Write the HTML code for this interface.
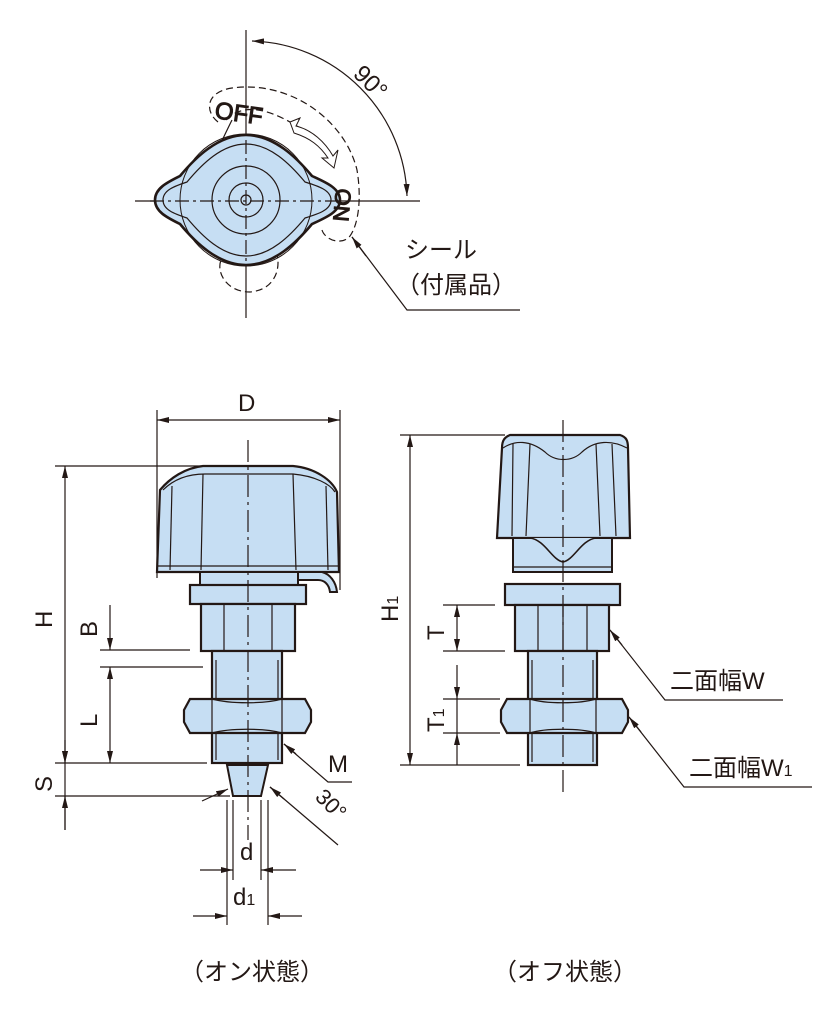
<!DOCTYPE html>
<html><head><meta charset="utf-8"><style>
html,body{margin:0;padding:0;background:#fff;}
svg{display:block;}
text{font-family:"Liberation Sans","Noto Sans CJK JP",sans-serif;fill:#231815;}
</style></head><body>
<svg width="833" height="1013" viewBox="0 0 833 1013" xmlns="http://www.w3.org/2000/svg">
<defs>
<marker id="a" viewBox="0 0 12 6" refX="12" refY="3" markerWidth="12" markerHeight="6" orient="auto-start-reverse" markerUnits="userSpaceOnUse"><path d="M0,0 L12,3 L0,6 z" fill="#231815"/></marker>
</defs>
<g stroke="#231815" fill="none" stroke-width="1.2">

<!-- ===== TOP VIEW ===== -->
<line x1="246" y1="30" x2="246" y2="318"/>
<line x1="135" y1="201" x2="420" y2="201"/>
<!-- dashed seal outline -->
<path d="M218,122 C205,112 205,92 232,88 C290,80 345,120 357,170 C362,200 358,225 350,236 C342,246 325,240 322,230" stroke-dasharray="7,4"/>
<path d="M226,120 C245,100 275,112 300,128" stroke-dasharray="7,4"/>
<path d="M276,251 C282,268 275,290 250,292 C225,292 215,270 222,258" stroke-dasharray="7,4"/>
<path d="M232,120 C222,140 218,150 212,160"/>
<!-- arc 90 -->
<path d="M252,41 A160,160 0 0 1 407,196" marker-start="url(#a)" marker-end="url(#a)"/>
<!-- rotate arrow -->
<path d="M290,122 L300,118 L296,126 C312,130 325,142 333,156 L338,150 L334,168 L322,158 L328,158 C320,146 310,138 294,133 Z" stroke-width="1" fill="#fff"/>
<!-- body -->
<path d="M155,200 C155,188 168,182 180,176 C195,158 218,135 246,135 C274,135 297,158 312,176 C325,182 340,188 340,200 C340,212 325,218 312,224 C297,242 274,265 246,265 C218,265 195,242 180,224 C168,218 155,212 155,200 Z" fill="#c6def3" stroke-width="2.6"/>
<path d="M163,200 C163,190 175,186 187,182 C202,164 222,144 246,144 C270,144 290,164 305,182 C318,186 331,190 331,200 C331,210 318,214 305,218 C290,236 270,256 246,256 C222,256 202,236 187,218 C175,214 163,210 163,200 Z"/>
<circle cx="246" cy="200" r="66" stroke-width="1"/>
<circle cx="246" cy="200" r="34"/>
<circle cx="246" cy="200" r="17"/>
<circle cx="246" cy="200" r="5"/>
<line x1="246" y1="140" x2="246" y2="262" stroke-dasharray="14,4,3,4"/>
<line x1="150" y1="201" x2="340" y2="201" stroke-dasharray="14,4,3,4"/>
<!-- seal leader -->
<polyline points="352,237 407,310 520,310" />
<line x1="352" y1="237" x2="366" y2="256" marker-start="url(#a)"/>

<!-- ===== LEFT VIEW ===== -->
<!-- D -->
<line x1="157" y1="410" x2="157" y2="578"/>
<line x1="340" y1="410" x2="340" y2="590"/>
<line x1="157" y1="420" x2="340" y2="420" marker-start="url(#a)" marker-end="url(#a)"/>
<!-- knob -->
<path d="M203,466 L293,466 C315,468 332,480 337,492 L339,572 L157,572 L160,490 C170,478 185,468 203,466 Z" fill="#c6def3" stroke-width="2.2"/>
<path d="M163,490 C175,478 190,474 205,474 L293,474 C315,476 330,484 335,492"/>
<line x1="203" y1="474" x2="201" y2="570"/><line x1="293" y1="474" x2="296" y2="570"/>
<line x1="172" y1="486" x2="170" y2="570"/><line x1="326" y1="486" x2="328" y2="570"/>
<line x1="158" y1="566" x2="338" y2="566"/>
<path d="M298,572 L322,572 C330,574 336,582 337,592 L330,592 C329,584 324,580 318,580 L298,580 Z" fill="#c6def3" stroke-width="2"/>
<rect x="200" y="572" width="98" height="13" fill="#c6def3" stroke-width="2"/>
<rect x="190" y="585" width="116" height="19" fill="#c6def3" stroke-width="2.2"/>
<rect x="201" y="604" width="94" height="47" fill="#c6def3" stroke-width="2.2"/>
<line x1="224" y1="604" x2="224" y2="651"/><line x1="272" y1="604" x2="272" y2="651"/>
<rect x="212" y="651" width="70" height="112" fill="#c6def3" stroke-width="2.2"/>
<line x1="216" y1="660" x2="216" y2="760"/><line x1="278" y1="660" x2="278" y2="760"/>
<path d="M190,699 L305,699 L311,710 L311,722 L305,733 L190,733 L184,722 L184,710 Z" fill="#c6def3" stroke-width="2.2"/>
<path d="M212,699 C230,704 265,704 282,699 M212,733 C230,728 265,728 282,733"/>
<line x1="212" y1="699" x2="212" y2="733"/><line x1="282" y1="699" x2="282" y2="733"/>
<path d="M227,765 L268,765 L261,796 L233,796 Z" fill="#c6def3" stroke-width="2"/>
<line x1="248" y1="440" x2="248" y2="840" stroke-dasharray="22,5,3,5"/>
<!-- H -->
<line x1="55" y1="466" x2="250" y2="466"/>
<line x1="65" y1="466" x2="65" y2="763" marker-start="url(#a)" marker-end="url(#a)"/>
<line x1="55" y1="763" x2="207" y2="763"/>
<line x1="55" y1="796" x2="230" y2="796"/>
<line x1="65" y1="763" x2="65" y2="830"/>
<line x1="65" y1="740" x2="65" y2="763" marker-end="url(#a)"/>
<line x1="65" y1="830" x2="65" y2="796" marker-end="url(#a)"/>
<!-- B L -->
<line x1="100" y1="650" x2="190" y2="650"/>
<line x1="100" y1="667" x2="203" y2="667"/>
<line x1="110" y1="605" x2="110" y2="650" marker-end="url(#a)"/>
<line x1="110" y1="667" x2="110" y2="763" marker-start="url(#a)" marker-end="url(#a)"/>
<!-- d d1 -->
<line x1="233" y1="800" x2="233" y2="880"/><line x1="261" y1="800" x2="261" y2="880"/>
<line x1="227" y1="800" x2="227" y2="925"/><line x1="268" y1="800" x2="268" y2="925"/>
<line x1="200" y1="870" x2="233" y2="870" marker-end="url(#a)"/>
<line x1="296" y1="870" x2="261" y2="870" marker-end="url(#a)"/>
<line x1="193" y1="916" x2="227" y2="916" marker-end="url(#a)"/>
<line x1="302" y1="916" x2="268" y2="916" marker-end="url(#a)"/>
<!-- M -->
<polyline points="284,744 328,782 352,782"/>
<line x1="296" y1="754" x2="284" y2="744" marker-end="url(#a)"/>
<!-- 30 -->
<line x1="270" y1="787" x2="338" y2="845"/>
<line x1="284" y1="799" x2="270" y2="787" marker-end="url(#a)"/>
<line x1="202" y1="801" x2="228" y2="789" marker-end="url(#a)"/>

<!-- ===== RIGHT VIEW ===== -->
<path d="M510,435 L620,435 C626,437 628,440 628,448 L630,538 L497,538 L502,448 C502,440 505,437 510,435 Z" fill="#c6def3" stroke-width="2.2"/>
<path d="M503,448 C515,440 530,440 545,452 C555,462 572,462 582,452 C595,440 612,440 627,448"/>
<path d="M513,444 L512,536 M530,444 L526,536 M596,444 L600,536 M612,444 L616,536"/>
<rect x="513" y="538" width="99" height="34" fill="#c6def3" stroke-width="2"/>
<path d="M530,538 C545,540 552,560 563,562 C574,560 581,540 596,538" fill="#c6def3" stroke-width="1.6"/>
<line x1="513" y1="567" x2="612" y2="567"/>
<rect x="505" y="584" width="115" height="21" fill="#c6def3" stroke-width="2.2"/>
<rect x="515" y="605" width="94" height="46" fill="#c6def3" stroke-width="2.2"/>
<line x1="538" y1="605" x2="538" y2="651"/><line x1="563" y1="605" x2="563" y2="651"/><line x1="587" y1="605" x2="587" y2="651"/>
<rect x="528" y="651" width="69" height="114" fill="#c6def3" stroke-width="2.2"/>
<line x1="532" y1="660" x2="532" y2="762"/><line x1="593" y1="660" x2="593" y2="762"/>
<path d="M507,699 L622,699 L628,710 L628,722 L622,733 L507,733 L501,722 L501,710 Z" fill="#c6def3" stroke-width="2.2"/>
<path d="M530,699 C545,704 580,704 596,699 M530,733 C545,728 580,728 596,733"/>
<line x1="530" y1="699" x2="530" y2="733"/><line x1="596" y1="699" x2="596" y2="733"/>
<line x1="563" y1="420" x2="563" y2="792" stroke-dasharray="22,5,3,5"/>
<!-- H1 -->
<line x1="400" y1="435" x2="505" y2="435"/>
<line x1="400" y1="765" x2="520" y2="765"/>
<line x1="410" y1="435" x2="410" y2="765" marker-start="url(#a)" marker-end="url(#a)"/>
<!-- T -->
<line x1="443" y1="605" x2="495" y2="605"/>
<line x1="443" y1="651" x2="505" y2="651"/>
<line x1="457" y1="605" x2="457" y2="651" marker-start="url(#a)" marker-end="url(#a)"/>
<line x1="443" y1="699" x2="500" y2="699"/>
<line x1="443" y1="733" x2="500" y2="733"/>
<line x1="457" y1="665" x2="457" y2="699" marker-end="url(#a)"/>
<line x1="457" y1="699" x2="457" y2="733"/>
<line x1="457" y1="765" x2="457" y2="733" marker-end="url(#a)"/>
<!-- leaders -->
<polyline points="610,630 665,700 783,700"/>
<line x1="622" y1="645" x2="610" y2="630" marker-end="url(#a)"/>
<polyline points="629,717 684,787 812,787"/>
<line x1="641" y1="732" x2="629" y2="717" marker-end="url(#a)"/>
</g>

<!-- top view texts -->
<text x="0" y="0" font-size="24" transform="translate(352,75) rotate(45)">90°</text>
<text x="0" y="0" font-size="24" transform="translate(214,118) rotate(8)" fill="#fff" stroke="#231815" stroke-width="1">OFF</text>
<text x="0" y="0" font-size="22" transform="translate(336,188) rotate(95)" fill="#fff" stroke="#231815" stroke-width="1">ON</text>
<text x="405" y="258" font-size="24">シール</text>
<text x="396" y="293" font-size="24">（付属品）</text>

<!-- left view texts -->
<text x="238" y="411" font-size="24">D</text>
<text font-size="24" transform="translate(52,628) rotate(-90)">H</text>
<text font-size="24" transform="translate(97,637) rotate(-90)">B</text>
<text font-size="24" transform="translate(97,727) rotate(-90)">L</text>
<text font-size="24" transform="translate(52,792) rotate(-90)">S</text>
<text x="328" y="772" font-size="24">M</text>
<text font-size="22" transform="translate(314,798) rotate(45)">30°</text>
<text x="240" y="860" font-size="24">d</text>
<text x="233" y="905" font-size="24">d<tspan font-size="16">1</tspan></text>
<text x="180" y="980" font-size="24">（オン状態）</text>

<!-- right view texts -->
<text font-size="24" transform="translate(398,622) rotate(-90)">H<tspan font-size="16">1</tspan></text>
<text font-size="24" transform="translate(444,640) rotate(-90)">T</text>
<text font-size="24" transform="translate(444,732) rotate(-90)">T<tspan font-size="16">1</tspan></text>
<text x="670" y="689" font-size="24">二面幅W</text>
<text x="689" y="776" font-size="24">二面幅W<tspan font-size="16">1</tspan></text>
<text x="493" y="980" font-size="24">（オフ状態）</text>
</svg>
</body></html>
